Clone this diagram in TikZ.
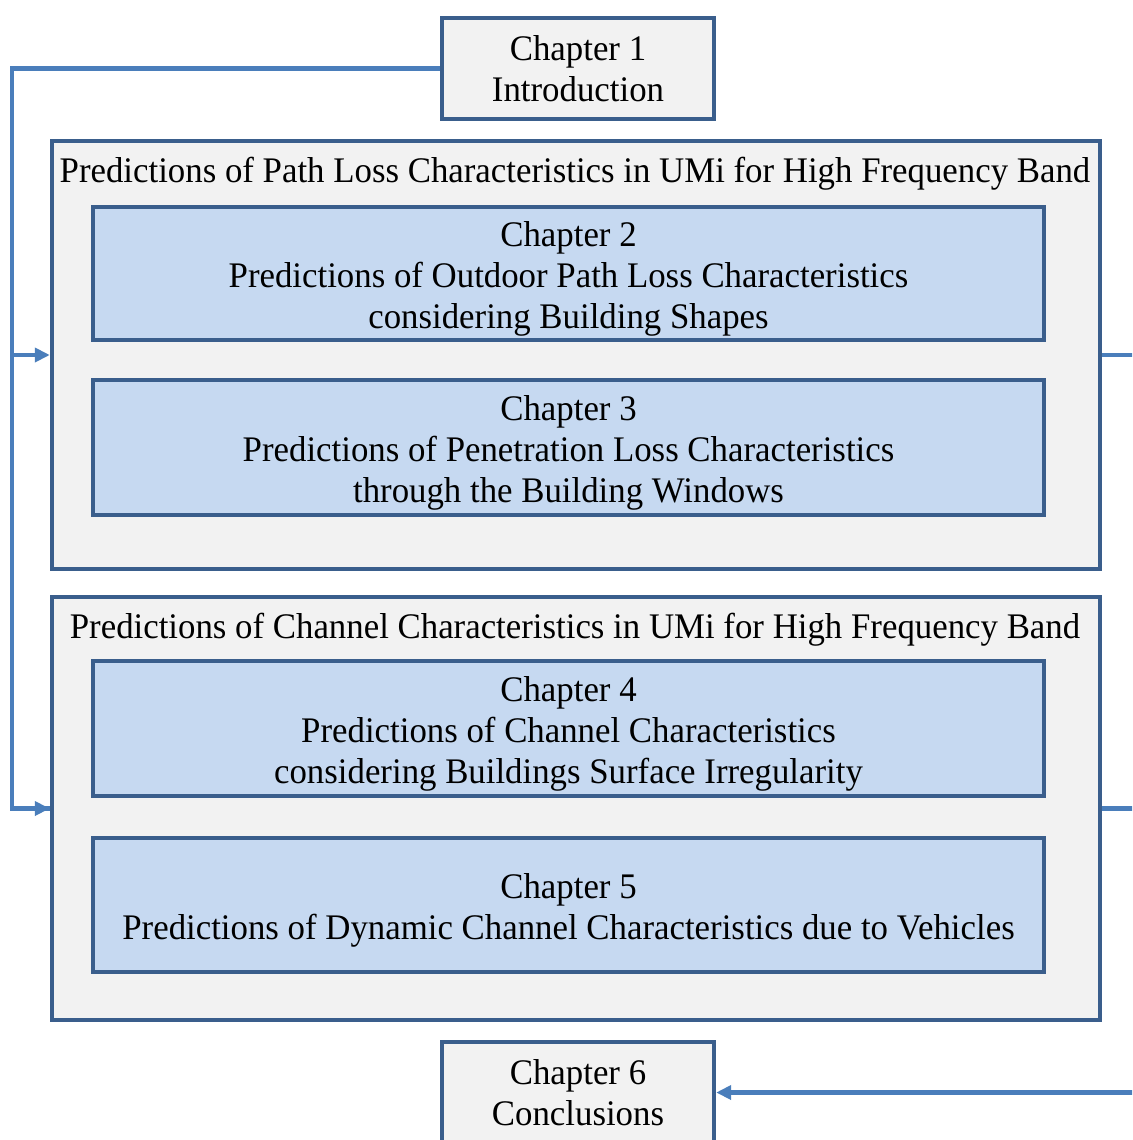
\documentclass[tikz,border=0pt]{standalone}
\usepackage{fontspec}
\setmainfont[FakeStretch=0.967]{Liberation Serif}
\usetikzlibrary{arrows.meta}
\definecolor{frameblue}{HTML}{3A5E8C}
\definecolor{linkblue}{HTML}{4A7EBB}
\definecolor{panelgray}{HTML}{F2F2F2}
\definecolor{chapblue}{HTML}{C6D9F1}
\tikzset{
  boxbase/.style={draw=frameblue, line width=2.2pt, inner sep=0pt},
  graybox/.style={boxbase, fill=panelgray},
  bluebox/.style={boxbase, fill=chapblue},
  boxtext/.style={inner sep=0pt, align=center, font=\fontsize{18}{20.5}\selectfont},
  link/.style={draw=linkblue, line width=2.4pt},
  linkarrow/.style={link, -{Triangle[length=7.5pt, width=7pt]}}
}
\begin{document}
\begin{tikzpicture}[x=0.5pt, y=-0.5pt]
  \useasboundingbox (0,0) rectangle (1132,1140);
  \clip (0,0) rectangle (1132,1140);

  % introduction
  \node[graybox, minimum width=136pt, minimum height=50.5pt] (ch1) at (578,68.5) {};
  \node[boxtext] (ch1text) at (578,68.5) {Chapter 1\\Introduction};

  % first panel: path loss
  \node[graybox, minimum width=524pt, minimum height=214pt] (pl) at (576,355) {};
  \node[boxtext] (pltitle) at (575,174)
    {Predictions of Path Loss Characteristics in UMi for High Frequency Band};
  \node[bluebox, minimum width=475.5pt, minimum height=66.5pt] (ch2) at (568.5,273.5) {};
  \node[boxtext] (ch2text) at (568.5,279)
    {Chapter 2\\Predictions of Outdoor Path Loss Characteristics\\considering Building Shapes};
  \node[bluebox, minimum width=475.5pt, minimum height=67.5pt] (ch3) at (568.5,447.5) {};
  \node[boxtext] (ch3text) at (568.5,453)
    {Chapter 3\\Predictions of Penetration Loss Characteristics\\through the Building Windows};

  % second panel: channel characteristics
  \node[graybox, minimum width=524pt, minimum height=211.5pt] (cc) at (576,808.5) {};
  \node[boxtext] (cctitle) at (575,630)
    {Predictions of Channel Characteristics in UMi for High Frequency Band};
  \node[bluebox, minimum width=475.5pt, minimum height=67.5pt] (ch4) at (568.5,728.5) {};
  \node[boxtext] (ch4text) at (568.5,734)
    {Chapter 4\\Predictions of Channel Characteristics\\considering Buildings Surface Irregularity};
  \node[bluebox, minimum width=475.5pt, minimum height=67pt] (ch5) at (568.5,905) {};
  \node[boxtext] (ch5text) at (568.5,910.5)
    {Chapter 5\\Predictions of Dynamic Channel Characteristics due to Vehicles};

  % conclusions
  \node[graybox, minimum width=136pt, minimum height=50.5pt] (ch6) at (578,1092.5) {};
  \node[boxtext] (ch6text) at (578,1092.5) {Chapter 6\\Conclusions};

  % links
  \coordinate (lbus) at (12,68.5);
  \coordinate (rbus) at (1170,355);
  \draw[link] (ch1.west) -- (lbus) |- (cc.west);
  \draw[linkarrow] (lbus) |- (pl.west);
  \draw[linkarrow] (lbus) |- (cc.west);
  \draw[link] (pl.east) -- (rbus);
  \draw[link] (cc.east) -- (rbus |- cc.east);
  \draw[linkarrow] (rbus) |- (ch6.east);
\end{tikzpicture}
\end{document}
